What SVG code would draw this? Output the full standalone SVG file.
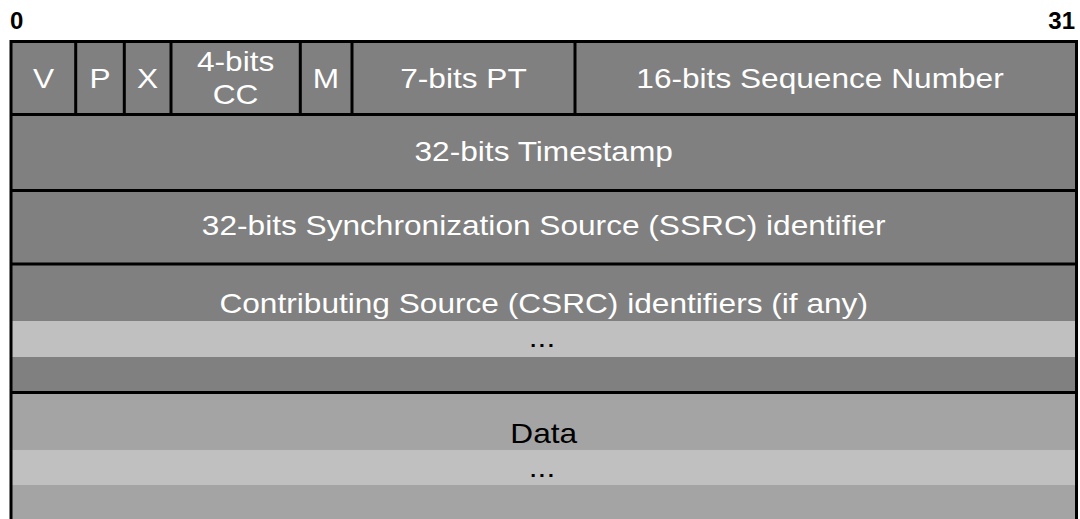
<svg xmlns="http://www.w3.org/2000/svg" width="1080" height="519" viewBox="0 0 1080 519">
<style>
.dark{fill:#808080}
.light{fill:#c0c0c0}
.mid{fill:#a4a4a4}
.ln{stroke:#000;stroke-width:3;fill:none}
.lbl{font-family:"Liberation Sans",Arial,sans-serif;font-size:28px;fill:#fff;text-anchor:middle}
.blk{font-family:"Liberation Sans",Arial,sans-serif;font-size:28px;fill:#000;text-anchor:middle}
.idx{font-family:"Liberation Sans",Arial,sans-serif;font-size:24px;font-weight:bold;fill:#000}
</style>
<rect width="1080" height="519" fill="#fff"/>
<g id="bit-index">
<text class="idx" x="10" y="29">0</text>
<text class="idx" x="1075" y="29" text-anchor="end">31</text>
</g>
<g id="backgrounds">
<rect class="dark" x="11" y="41" width="1066" height="351"/>
<rect class="light" x="11" y="321" width="1066" height="36"/>
<rect class="mid" x="11" y="392" width="1066" height="58"/>
<rect class="light" x="11" y="450" width="1066" height="35"/>
<rect class="mid" x="11" y="485" width="1066" height="40"/>
</g>
<g id="field-V"><text class="lbl" transform="translate(43.5,88) scale(1.13,1)">V</text></g>
<g id="field-P"><text class="lbl" transform="translate(100,88) scale(1.13,1)">P</text></g>
<g id="field-X"><text class="lbl" transform="translate(147.6,88) scale(1.13,1)">X</text></g>
<g id="field-CC"><text class="lbl" transform="translate(235.6,71) scale(1.13,1)">4-bits</text><text class="lbl" transform="translate(235.6,104) scale(1.13,1)">CC</text></g>
<g id="field-M"><text class="lbl" transform="translate(326,88) scale(1.13,1)">M</text></g>
<g id="field-PT"><text class="lbl" transform="translate(463.5,88) scale(1.13,1)">7-bits PT</text></g>
<g id="field-seq"><text class="lbl" transform="translate(820,88) scale(1.13,1)">16-bits Sequence Number</text></g>
<g id="field-timestamp"><text class="lbl" transform="translate(543.7,161) scale(1.13,1)">32-bits Timestamp</text></g>
<g id="field-ssrc"><text class="lbl" transform="translate(543.7,235) scale(1.13,1)">32-bits Synchronization Source (SSRC) identifier</text></g>
<g id="field-csrc"><text class="lbl" transform="translate(543.7,313) scale(1.13,1)">Contributing Source (CSRC) identifiers (if any)</text><text class="blk" transform="translate(542,347) scale(1.13,1)">...</text></g>
<g id="field-data"><text class="blk" transform="translate(543.7,443) scale(1.13,1)">Data</text><text class="blk" transform="translate(542,477) scale(1.13,1)">...</text></g>
<g id="grid">
<path class="ln" d="M11,525 V41.5 H1076.5 V525"/>
<path class="ln" d="M11,114.5 H1076.5 M11,190.5 H1076.5 M11,264 H1076.5 M11,392.5 H1076.5"/>
<path class="ln" d="M75.7,41.5 V114.5 M124.3,41.5 V114.5 M171,41.5 V114.5 M300.3,41.5 V114.5 M352,41.5 V114.5 M575,41.5 V114.5"/>
</g>
</svg>
